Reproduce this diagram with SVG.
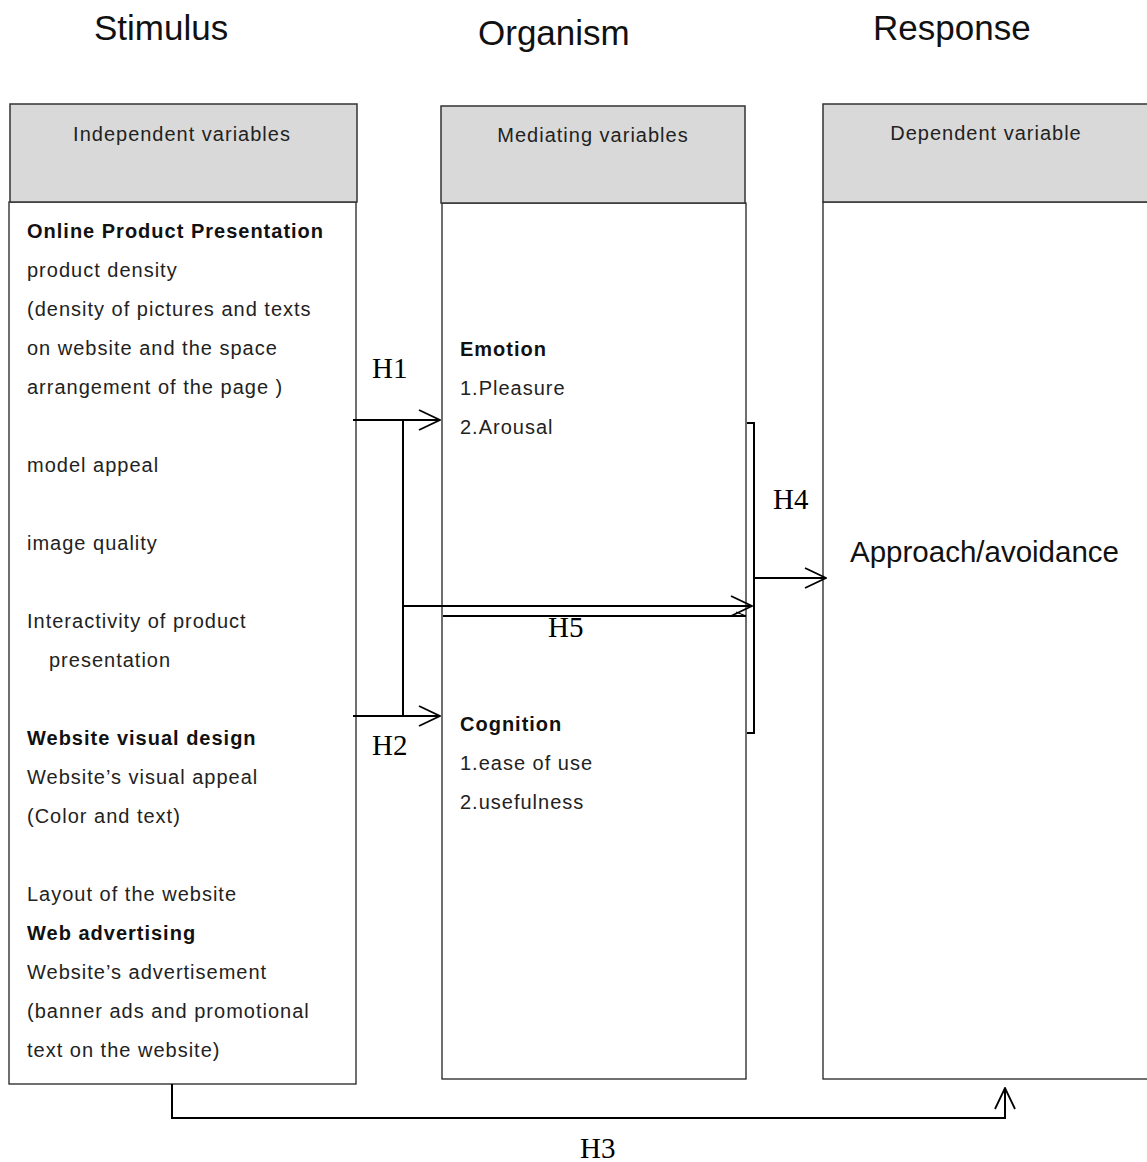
<svg xmlns="http://www.w3.org/2000/svg" width="1147" height="1162" viewBox="0 0 1147 1162">
<style>
.title{font-family:"Liberation Sans",Arial,sans-serif;font-size:35px;fill:#111}
.hdr{font-family:"Liberation Sans",Arial,sans-serif;font-size:20px;letter-spacing:1px;fill:#222}
.t{font-family:"Liberation Sans",Arial,sans-serif;font-size:20px;letter-spacing:1px;fill:#222}
.b{font-weight:bold;fill:#111}
.h{font-family:"Liberation Serif","Times New Roman",serif;font-size:29px;fill:#000}
.hbox{fill:#d9d9d9;stroke:#333;stroke-width:1.5}
.body{fill:#fff;stroke:#222;stroke-width:1.3}
.ln{fill:none;stroke:#000;stroke-width:2}
</style>
<defs>
<marker id="arrL" viewBox="0 0 24 24" refX="23" refY="12" markerWidth="24" markerHeight="24" markerUnits="userSpaceOnUse" orient="auto">
<path d="M2,2 L23,12 L2,22" fill="none" stroke="#000" stroke-width="1.8"/>
</marker>
</defs>
<rect width="1147" height="1162" fill="#fff"/>
<text class="title" x="94" y="40">Stimulus</text>
<text class="title" x="478" y="45">Organism</text>
<text class="title" x="873" y="40">Response</text>

<g id="independent">
<rect class="body" x="9" y="202" width="347" height="882"/>
<rect class="hbox" x="10" y="104" width="347" height="98"/>
<text class="hdr" x="182" y="141" text-anchor="middle">Independent variables</text>
<text class="t b" x="27" y="238">Online Product Presentation</text>
<text class="t" x="27" y="277">product density</text>
<text class="t" x="27" y="316">(density of pictures and texts</text>
<text class="t" x="27" y="355">on website and the space</text>
<text class="t" x="27" y="394">arrangement of the page )</text>
<text class="t" x="27" y="472">model appeal</text>
<text class="t" x="27" y="550">image quality</text>
<text class="t" x="27" y="628">Interactivity of product</text>
<text class="t" x="49" y="667">presentation</text>
<text class="t b" x="27" y="745">Website visual design</text>
<text class="t" x="27" y="784">Website’s visual appeal</text>
<text class="t" x="27" y="823">(Color and text)</text>
<text class="t" x="27" y="901">Layout of the website</text>
<text class="t b" x="27" y="940">Web advertising</text>
<text class="t" x="27" y="979">Website’s advertisement</text>
<text class="t" x="27" y="1018">(banner ads and promotional</text>
<text class="t" x="27" y="1057">text on the website)</text>
</g>

<g id="mediating">
<rect class="body" x="442" y="203" width="304" height="876"/>
<rect class="hbox" x="441" y="106" width="304" height="97"/>
<text class="hdr" x="593" y="142" text-anchor="middle">Mediating variables</text>
<line x1="443" y1="616" x2="746" y2="616" stroke="#000" stroke-width="2"/>
<line x1="736" y1="612" x2="746" y2="616" stroke="#000" stroke-width="1.2"/>
<text class="t b" x="460" y="356">Emotion</text>
<text class="t" x="460" y="395">1.Pleasure</text>
<text class="t" x="460" y="434">2.Arousal</text>
<text class="t b" x="460" y="731">Cognition</text>
<text class="t" x="460" y="770">1.ease of use</text>
<text class="t" x="460" y="809">2.usefulness</text>
</g>

<g id="dependent">
<rect class="body" x="823" y="202" width="330" height="877"/>
<rect class="hbox" x="823" y="104" width="330" height="98"/>
<text class="hdr" x="986" y="140" text-anchor="middle">Dependent variable</text>
<text x="850" y="562" style="font-family:'Liberation Sans',Arial,sans-serif;font-size:29.5px;fill:#111">Approach/avoidance</text>
</g>

<g id="connectors">
<line class="ln" x1="353" y1="420" x2="440" y2="420" marker-end="url(#arrL)"/>
<line class="ln" x1="353" y1="716" x2="440" y2="716" marker-end="url(#arrL)"/>
<line class="ln" x1="403" y1="420" x2="403" y2="716"/>
<line class="ln" x1="403" y1="606" x2="752" y2="606" marker-end="url(#arrL)"/>
<path class="ln" d="M747,423 H754 V733 H747"/>
<line class="ln" x1="754" y1="578" x2="826" y2="578" marker-end="url(#arrL)"/>
<path class="ln" d="M172,1084 V1118 H1005 V1088" marker-end="url(#arrL)"/>
<text class="h" x="372" y="378">H1</text>
<text class="h" x="372" y="755">H2</text>
<text class="h" x="773" y="509">H4</text>
<text class="h" x="548" y="637">H5</text>
<text class="h" x="580" y="1158">H3</text>
</g>
</svg>
